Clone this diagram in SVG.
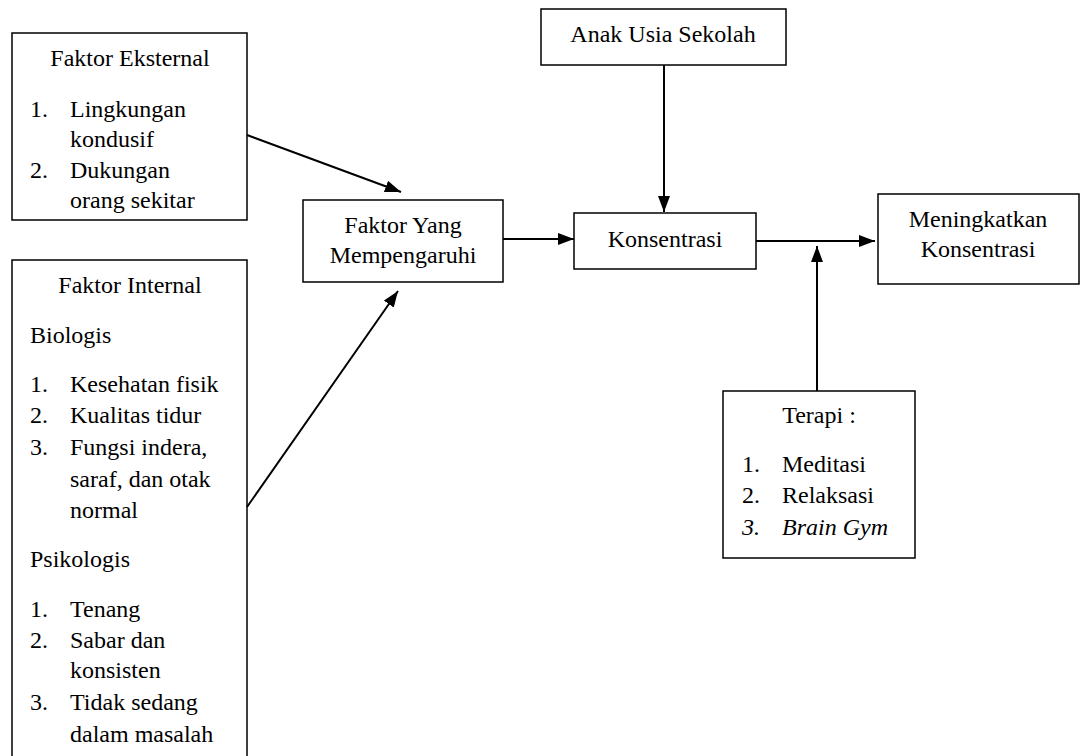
<svg xmlns="http://www.w3.org/2000/svg" width="1082" height="756" viewBox="0 0 1082 756">
<defs>
<marker id="ah" viewBox="0 0 16 12" refX="16" refY="6" markerWidth="16" markerHeight="12" markerUnits="userSpaceOnUse" orient="auto">
<path d="M0,0 L16,6 L0,12 Z" fill="#000"/>
</marker>
</defs>
<rect width="1082" height="756" fill="#fff"/>
<g id="eksternal">
<rect x="12" y="33" width="235" height="187" fill="#fff" stroke="#000" stroke-width="1.5"/>
<text font-family="Times New Roman" font-size="24" text-anchor="middle" x="130" y="66">Faktor Eksternal</text>
<text font-family="Times New Roman" font-size="24" x="30" y="117">1.</text>
<text font-family="Times New Roman" font-size="24" x="70" y="117">Lingkungan</text>
<text font-family="Times New Roman" font-size="24" x="70" y="147">kondusif</text>
<text font-family="Times New Roman" font-size="24" x="30" y="178">2.</text>
<text font-family="Times New Roman" font-size="24" x="70" y="178">Dukungan</text>
<text font-family="Times New Roman" font-size="24" x="70" y="208">orang sekitar</text>
</g>
<g id="internal">
<rect x="12" y="260" width="235" height="510" fill="#fff" stroke="#000" stroke-width="1.5"/>
<text font-family="Times New Roman" font-size="24" text-anchor="middle" x="130" y="293">Faktor Internal</text>
<text font-family="Times New Roman" font-size="24" x="30" y="343">Biologis</text>
<text font-family="Times New Roman" font-size="24" x="30" y="392">1.</text>
<text font-family="Times New Roman" font-size="24" x="70" y="392">Kesehatan fisik</text>
<text font-family="Times New Roman" font-size="24" x="30" y="423">2.</text>
<text font-family="Times New Roman" font-size="24" x="70" y="423">Kualitas tidur</text>
<text font-family="Times New Roman" font-size="24" x="30" y="455">3.</text>
<text font-family="Times New Roman" font-size="24" x="70" y="455">Fungsi indera,</text>
<text font-family="Times New Roman" font-size="24" x="70" y="487">saraf, dan otak</text>
<text font-family="Times New Roman" font-size="24" x="70" y="518">normal</text>
<text font-family="Times New Roman" font-size="24" x="30" y="567">Psikologis</text>
<text font-family="Times New Roman" font-size="24" x="30" y="617">1.</text>
<text font-family="Times New Roman" font-size="24" x="70" y="617">Tenang</text>
<text font-family="Times New Roman" font-size="24" x="30" y="648">2.</text>
<text font-family="Times New Roman" font-size="24" x="70" y="648">Sabar dan</text>
<text font-family="Times New Roman" font-size="24" x="70" y="678">konsisten</text>
<text font-family="Times New Roman" font-size="24" x="30" y="710">3.</text>
<text font-family="Times New Roman" font-size="24" x="70" y="710">Tidak sedang</text>
<text font-family="Times New Roman" font-size="24" x="70" y="742">dalam masalah</text>
</g>
<g id="faktor">
<rect x="303" y="200" width="200" height="82" fill="#fff" stroke="#000" stroke-width="1.5"/>
<text font-family="Times New Roman" font-size="24" text-anchor="middle" x="403" y="233">Faktor Yang</text>
<text font-family="Times New Roman" font-size="24" text-anchor="middle" x="403" y="263">Mempengaruhi</text>
</g>
<g id="anak">
<rect x="541" y="9" width="245" height="56" fill="#fff" stroke="#000" stroke-width="1.5"/>
<text font-family="Times New Roman" font-size="24" text-anchor="middle" x="663" y="42">Anak Usia Sekolah</text>
</g>
<g id="konsentrasi">
<rect x="574" y="213" width="182" height="56" fill="#fff" stroke="#000" stroke-width="1.5"/>
<text font-family="Times New Roman" font-size="24" text-anchor="middle" x="665" y="247">Konsentrasi</text>
</g>
<g id="meningkatkan">
<rect x="878" y="194" width="201" height="90" fill="#fff" stroke="#000" stroke-width="1.5"/>
<text font-family="Times New Roman" font-size="24" text-anchor="middle" x="978" y="227">Meningkatkan</text>
<text font-family="Times New Roman" font-size="24" text-anchor="middle" x="978" y="257">Konsentrasi</text>
</g>
<g id="terapi">
<rect x="723" y="391" width="192" height="167" fill="#fff" stroke="#000" stroke-width="1.5"/>
<text font-family="Times New Roman" font-size="24" text-anchor="middle" x="819" y="423">Terapi :</text>
<text font-family="Times New Roman" font-size="24" x="742" y="472">1.</text>
<text font-family="Times New Roman" font-size="24" x="782" y="472">Meditasi</text>
<text font-family="Times New Roman" font-size="24" x="742" y="503">2.</text>
<text font-family="Times New Roman" font-size="24" x="782" y="503">Relaksasi</text>
<text font-family="Times New Roman" font-size="24" font-style="italic" x="742" y="535">3.</text>
<text font-family="Times New Roman" font-size="24" font-style="italic" x="782" y="535">Brain Gym</text>
</g>
<g id="connectors" stroke="#000" stroke-width="2" fill="none">
<line x1="247" y1="135" x2="401" y2="192" marker-end="url(#ah)"/>
<line x1="247" y1="507" x2="398" y2="291" marker-end="url(#ah)"/>
<line x1="503" y1="239" x2="574" y2="239" marker-end="url(#ah)"/>
<line x1="664" y1="65" x2="664" y2="212" marker-end="url(#ah)"/>
<line x1="756" y1="241" x2="875" y2="241" marker-end="url(#ah)"/>
<line x1="817" y1="391" x2="817" y2="246" marker-end="url(#ah)"/>
</g>
</svg>
